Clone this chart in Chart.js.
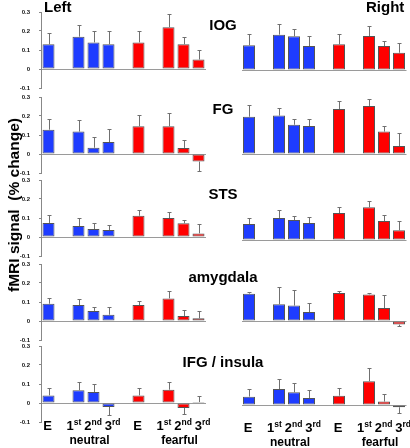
<!DOCTYPE html>
<html>
<head>
<meta charset="utf-8">
<script src="https://cdn.jsdelivr.net/npm/chart.js@4"></script>
<style>
    body { margin: 0; background: #fff; }
    #wrap { position: relative; width: 410px; height: 448px; overflow: hidden; font-family: 'Liberation Sans', Arial, sans-serif; }
    #wrap canvas { position: absolute; }
    .lbl { position: absolute; font-weight: bold; font-size: 15px; line-height: 15px; color: #000; white-space: pre; }
    .mid { transform: translateX(-50%); }
    #ytitle { position: absolute; left: 14px; top: 205px; font-weight: bold; font-size: 15.5px; line-height: 16px;
              white-space: pre; transform: translate(-50%, -50%) rotate(-90deg); }
</style>
</head>
<body>
<div id="wrap">
    <div class="lbl" style="left:44px; top:-1px;">Left</div>
    <div class="lbl" style="left:366px; top:-1px;">Right</div>
    <div id="ytitle">fMRI signal  (% change)</div>
</div>
<script>
// slots: E, gap, 1st, 2nd, 3rd, gap, E, gap, 1st, 2nd, 3rd
const categories = ['E', '', '1st', '2nd', '3rd', '', 'E', '', '1st', '2nd', '3rd'];
const groupLabels = ['neutral', 'fearful'];
const regions = ['IOG', 'FG', 'STS', 'amygdala', 'IFG / insula'];
const yTicks = [-0.1, 0, 0.1, 0.2, 0.3];

// Left hemisphere means / errors
const iogLeft     = [0.13, null, 0.17, 0.14, 0.13, null, 0.14, null, 0.22, 0.13, 0.05];
const iogLeftErr  = [0.06, null, 0.06, 0.06, 0.07, null, 0.06, null, 0.07, 0.04, 0.05];
const fgLeft      = [0.128, null, 0.118, 0.033, 0.063, null, 0.146, null, 0.146, 0.032, -0.04];
const fgLeftErr   = [0.056, null, 0.061, 0.058, 0.069, null, 0.059, null, 0.07, 0.042, 0.049];
const stsLeft     = [0.074, null, 0.058, 0.042, 0.037, null, 0.112, null, 0.1, 0.072, 0.019];
const stsLeftErr  = [0.04, null, 0.04, 0.032, 0.026, null, 0.03, null, 0.033, 0.019, 0.051];
const amyLeft     = [0.091, null, 0.084, 0.053, 0.033, null, 0.084, null, 0.119, 0.026, 0.014];
const amyLeftErr  = [0.03, null, 0.032, 0.022, 0.041, null, 0.021, null, 0.039, 0.032, 0.039];
const ifgLeft     = [0.04, null, 0.067, 0.058, -0.021, null, 0.04, null, 0.07, -0.026, 0.005];
const ifgLeftErr  = [0.041, null, 0.042, 0.04, 0.04, null, 0.041, null, 0.039, 0.03, 0.03];

// Right hemisphere means / errors
const iogRight    = [0.13, null, 0.186, 0.177, 0.126, null, 0.135, null, 0.179, 0.126, 0.091];
const iogRightErr = [0.058, null, 0.058, 0.041, 0.051, null, 0.056, null, 0.051, 0.028, 0.049];
const fgRight     = [0.196, null, 0.202, 0.154, 0.147, null, 0.237, null, 0.253, 0.118, 0.042];
const fgRightErr  = [0.06, null, 0.04, 0.03, 0.037, null, 0.04, null, 0.036, 0.029, 0.07];
const stsRight    = [0.084, null, 0.116, 0.105, 0.089, null, 0.142, null, 0.172, 0.1, 0.051];
const stsRightErr = [0.03, null, 0.04, 0.02, 0.03, null, 0.03, null, 0.032, 0.03, 0.049];
const amyRight    = [0.144, null, 0.088, 0.081, 0.047, null, 0.147, null, 0.14, 0.068, -0.019];
const amyRightErr = [0.009, null, 0.089, 0.082, 0.048, null, 0.011, null, 0.009, 0.069, 0.007];
const ifgRight    = [0.044, null, 0.084, 0.067, 0.037, null, 0.049, null, 0.125, 0.018, -0.012];
const ifgRightErr = [0.04, null, 0.053, 0.051, 0.04, null, 0.04, null, 0.07, 0.042, 0.028];

document.addEventListener('DOMContentLoaded', function() {
    const wrap = document.getElementById('wrap');
    const BLUE = '#1e3cff';
    const RED = '#ff0000';
    const FONT = '"Liberation Sans", Arial, sans-serif';

    const leftData = [[iogLeft, iogLeftErr], [fgLeft, fgLeftErr], [stsLeft, stsLeftErr], [amyLeft, amyLeftErr], [ifgLeft, ifgLeftErr]];
    const rightData = [[iogRight, iogRightErr], [fgRight, fgRightErr], [stsRight, stsRightErr], [amyRight, amyRightErr], [ifgRight, ifgRightErr]];

    // panel layout (pixel position of the 0.3 gridline per row)
    const rowTop = [12, 97, 180, 264, 346];
    const rightShift = [1, 0, 3, 0, 2];
    const titleTop = [17, 101, 186, 269, 354];
    const plotH = 76;
    const pad = 6;

    // Error bars drawn through the y scale
    const errorBars = {
        id: 'errorBars',
        afterDatasetsDraw(chart, args, opts) {
            const ctx = chart.ctx;
            const y = chart.scales.y;
            const vals = chart.data.datasets[0].data;
            const meta = chart.getDatasetMeta(0);
            ctx.save();
            ctx.strokeStyle = '#707070';
            ctx.lineWidth = 1;
            meta.data.forEach((bar, i) => {
                if (vals[i] == null) return;
                const dir = vals[i] < 0 ? -1 : 1;
                const y0 = y.getPixelForValue(vals[i]);
                const y1 = Math.round(y.getPixelForValue(vals[i] + dir * opts.errors[i])) + 0.5;
                const x = Math.round(bar.x) + 0.5;
                ctx.beginPath();
                ctx.moveTo(x, y0);
                ctx.lineTo(x, y1);
                ctx.moveTo(x - 2, y1);
                ctx.lineTo(x + 2, y1);
                ctx.stroke();
            });
            ctx.restore();
        }
    };

    // Condition labels under the bottom row
    const xLabels = {
        id: 'xLabels',
        afterDraw(chart, args, opts) {
            if (!opts.show) return;
            const ctx = chart.ctx;
            const x = chart.scales.x;
            const base = chart.chartArea.bottom;
            const mainFont = 'bold 13px ' + FONT;
            const supFont = 'bold 8.5px ' + FONT;
            const gap = 3;
            ctx.save();
            ctx.fillStyle = '#000';
            ctx.textBaseline = 'alphabetic';

            [[0, [2, 3, 4]], [6, [8, 9, 10]]].forEach((grp, g) => {
                // expression label
                ctx.font = mainFont;
                ctx.textAlign = 'center';
                ctx.fillText(categories[grp[0]], x.getPixelForValue(grp[0]) - 1, base + 8);

                // 1st 2nd 3rd run, centred on the middle bar
                ctx.textAlign = 'left';
                const parts = grp[1].map(i => {
                    const main = categories[i].charAt(0);
                    const sup = categories[i].slice(1);
                    ctx.font = mainFont;
                    const wm = ctx.measureText(main).width;
                    ctx.font = supFont;
                    const ws = ctx.measureText(sup).width;
                    return { main, sup, wm, ws };
                });
                const total = parts.reduce((s, p) => s + p.wm + p.ws, 0) + gap * (parts.length - 1);
                let cx = x.getPixelForValue(grp[1][1]) - total / 2;
                parts.forEach(p => {
                    ctx.font = mainFont;
                    ctx.fillText(p.main, cx, base + 8);
                    ctx.font = supFont;
                    ctx.fillText(p.sup, cx + p.wm, base + 3);
                    cx += p.wm + p.ws + gap;
                });

                // neutral / fearful
                ctx.font = 'bold 12px ' + FONT;
                ctx.textAlign = 'center';
                ctx.fillText(groupLabels[g], x.getPixelForValue(grp[1][1]) - 4, base + 22);
            });
            ctx.restore();
        }
    };

    function makePanel(values, errors, left, top, width, padLeft, padRight, withAxis, bottomRow) {
        const canvas = document.createElement('canvas');
        const extra = bottomRow ? 40 : 0;
        const height = plotH + pad * 2 + extra;
        canvas.width = width;
        canvas.height = height;
        canvas.style.left = left + 'px';
        canvas.style.top = top + 'px';
        canvas.style.width = width + 'px';
        canvas.style.height = height + 'px';
        wrap.insertBefore(canvas, wrap.firstChild);

        const colors = categories.map((c, i) => i < 5 ? BLUE : RED);

        new Chart(canvas.getContext('2d'), {
            type: 'bar',
            data: {
                labels: categories,
                datasets: [{
                    data: values,
                    backgroundColor: colors,
                    borderColor: '#555',
                    borderWidth: 1,
                    borderSkipped: false,
                    barPercentage: 0.8,
                    categoryPercentage: 1
                }]
            },
            options: {
                responsive: false,
                animation: false,
                devicePixelRatio: 1,
                layout: {
                    padding: { left: padLeft, right: padRight, top: pad, bottom: pad + extra }
                },
                plugins: {
                    legend: { display: false },
                    tooltip: { enabled: false },
                    errorBars: { errors: errors },
                    xLabels: { show: bottomRow }
                },
                scales: {
                    x: { display: false, offset: true },
                    y: {
                        min: -0.1,
                        max: 0.3,
                        afterBuildTicks: function(scale) {
                            scale.ticks = yTicks.map(v => ({ value: v }));
                        },
                        afterFit: function(scale) {
                            scale.width = withAxis ? 41 : 0;
                            scale.paddingTop = 0;
                            scale.paddingBottom = 0;
                        },
                        border: { display: withAxis, color: '#888' },
                        grid: {
                            drawTicks: withAxis,
                            tickLength: 2,
                            tickColor: '#888',
                            color: ctx => ctx.tick && ctx.tick.value === 0 ? '#9a9a9a' : 'rgba(0,0,0,0)'
                        },
                        ticks: {
                            display: withAxis,
                            padding: 9,
                            color: '#111',
                            font: { family: 'Liberation Sans', size: 6, weight: 'bold' },
                            callback: v => String(Math.round(v * 10) / 10)
                        }
                    }
                }
            },
            plugins: [errorBars, xLabels]
        });
    }

    regions.forEach((name, r) => {
        const bottomRow = r === regions.length - 1;
        makePanel(leftData[r][0], leftData[r][1], 0, rowTop[r] - pad, 210, 0, 4, true, bottomRow);
        makePanel(rightData[r][0], rightData[r][1], 236, rowTop[r] + rightShift[r] - pad, 174, 5.5, 3.5, false, bottomRow);

        // region title
        const t = document.createElement('div');
        t.className = 'lbl mid';
        t.style.left = '223px';
        t.style.top = titleTop[r] + 'px';
        t.textContent = name;
        wrap.appendChild(t);
    });
});
</script>
</body>
</html>
